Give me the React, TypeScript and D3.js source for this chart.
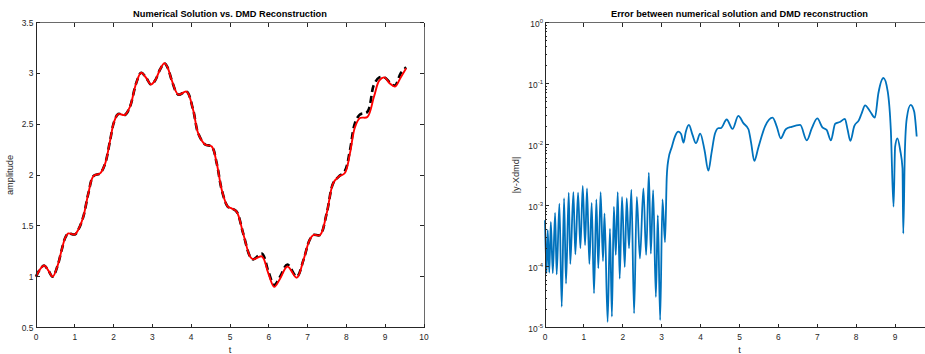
import React from 'react';
import * as d3 from 'd3';

// ---- Left panel data: time samples and the two curves ----
const tAmp = [0, 0.10, 0.21, 0.32, 0.43, 0.55, 0.66, 0.75, 0.83, 1.00, 1.10, 1.22, 1.35, 1.48, 1.65, 1.78, 1.91, 2.01, 2.12, 2.29, 2.42, 2.58, 2.71, 2.85, 2.96, 3.07, 3.20, 3.31, 3.40, 3.50, 3.67, 3.88, 4.05, 4.18, 4.36, 4.53, 4.66, 4.79, 4.94, 5.05, 5.17, 5.34, 5.52, 5.60, 5.82, 5.99, 6.14, 6.29, 6.48, 6.72, 6.89, 7.05, 7.15, 7.32, 7.49, 7.66, 7.79, 7.96, 8.09, 8.22, 8.35, 8.54, 8.71, 8.85, 8.98, 9.12, 9.25, 9.40, 9.54];

const dmdRecon = [1.00, 1.07, 1.11, 1.06, 1.00, 1.10, 1.26, 1.38, 1.425, 1.415, 1.47, 1.59, 1.82, 1.99, 2.016, 2.11, 2.34, 2.52, 2.60, 2.59, 2.67, 2.90, 3.006, 2.95, 2.89, 2.93, 3.04, 3.10, 3.05, 2.93, 2.79, 2.82, 2.64, 2.41, 2.30, 2.28, 2.11, 1.85, 1.69, 1.67, 1.64, 1.425, 1.195, 1.17, 1.20, 1.03, 0.90, 0.98, 1.10, 0.99, 1.16, 1.36, 1.41, 1.41, 1.62, 1.92, 1.98, 2.02, 2.21, 2.47, 2.56, 2.57, 2.77, 2.93, 2.96, 2.90, 2.87, 2.96, 3.05];

const numerical = [1.00, 1.07, 1.11, 1.06, 1.00, 1.10, 1.26, 1.38, 1.425, 1.415, 1.47, 1.59, 1.82, 1.99, 2.016, 2.11, 2.34, 2.52, 2.60, 2.59, 2.67, 2.90, 3.006, 2.95, 2.89, 2.93, 3.04, 3.10, 3.05, 2.93, 2.79, 2.82, 2.64, 2.41, 2.30, 2.28, 2.11, 1.85, 1.69, 1.67, 1.64, 1.425, 1.195, 1.17, 1.227, 1.05, 0.918, 1.00, 1.12, 1.00, 1.16, 1.36, 1.41, 1.41, 1.62, 1.92, 1.98, 2.04, 2.24, 2.51, 2.595, 2.62, 2.89, 2.96, 2.96, 2.91, 2.88, 3.00, 3.06];

// ---- Right panel data: |y - Xdmd| ----
const tErr = [0.00, 0.04, 0.07, 0.11, 0.15, 0.20, 0.26, 0.30, 0.37, 0.43, 0.49, 0.54, 0.61, 0.65, 0.73, 0.78, 0.85, 0.91, 0.97, 1.03, 1.08, 1.14, 1.20, 1.26, 1.32, 1.37, 1.43, 1.49, 1.53, 1.61, 1.67, 1.72, 1.77, 1.82, 1.87, 1.92, 1.98, 2.05, 2.10, 2.16, 2.22, 2.29, 2.36, 2.44, 2.53, 2.60, 2.67, 2.72, 2.78, 2.85, 2.90, 2.96, 3.02, 3.085, 3.13, 3.17, 3.26, 3.34, 3.43, 3.50, 3.56, 3.62, 3.70, 3.79, 3.88, 3.99, 4.10, 4.20, 4.28, 4.37, 4.46, 4.52, 4.67, 4.82, 4.97, 5.10, 5.23, 5.30, 5.38, 5.48, 5.66, 5.85, 5.96, 6.06, 6.19, 6.34, 6.56, 6.73, 6.86, 7.00, 7.13, 7.24, 7.35, 7.46, 7.58, 7.71, 7.78, 7.85, 7.95, 8.07, 8.14, 8.23, 8.35, 8.48, 8.57, 8.70, 8.81, 8.89, 8.96, 9.00, 9.06, 9.13, 9.19, 9.21, 9.25, 9.30, 9.40, 9.49, 9.555];

const errVals = [5.75e-4, 7.76e-5, 3.98e-4, 7.94e-5, 5.37e-4, 7.76e-5, 7.59e-4, 7.41e-5, 1.07e-3, 2.19e-5, 1.32e-3, 5.25e-5, 1.62e-3, 1.10e-4, 1.66e-3, 1.58e-4, 1.62e-3, 2.00e-4, 2.09e-3, 2.24e-4, 1.91e-3, 1.10e-4, 1.10e-3, 3.63e-5, 1.26e-3, 9.33e-5, 1.66e-3, 1.23e-4, 7.41e-4, 1.23e-5, 4.17e-4, 1.51e-5, 9.55e-4, 1.55e-4, 1.66e-3, 6.31e-5, 1.38e-3, 9.77e-5, 1.32e-3, 2.00e-4, 1.82e-3, 1.70e-5, 1.38e-3, 1.35e-4, 1.91e-3, 1.55e-4, 3.47e-3, 1.62e-4, 1.78e-3, 3.16e-5, 6.92e-4, 1.32e-5, 1.26e-3, 2.51e-4, 2.95e-3, 5.62e-3, 9.12e-3, 1.35e-2, 1.62e-2, 1.48e-2, 1.07e-2, 1.62e-2, 2.09e-2, 1.45e-2, 1.05e-2, 1.51e-2, 8.13e-3, 3.72e-3, 7.24e-3, 1.51e-2, 1.86e-2, 1.86e-2, 2.57e-2, 1.80e-2, 2.95e-2, 2.24e-2, 1.78e-2, 1.05e-2, 5.37e-3, 8.71e-3, 2.00e-2, 2.75e-2, 1.95e-2, 1.26e-2, 1.78e-2, 1.95e-2, 2.09e-2, 1.17e-2, 1.86e-2, 2.69e-2, 1.91e-2, 1.74e-2, 1.17e-2, 2.19e-2, 2.34e-2, 2.63e-2, 1.74e-2, 1.15e-2, 2.00e-2, 2.51e-2, 3.24e-2, 4.37e-2, 3.55e-2, 2.75e-2, 6.92e-2, 1.23e-1, 7.41e-2, 1.74e-2, 9.55e-4, 9.12e-3, 1.26e-2, 8.13e-3, 4.07e-3, 3.47e-4, 7.24e-3, 2.69e-2, 4.47e-2, 3.47e-2, 1.35e-2];

// ---- Tick definitions ----
const leftXTicks = [0, 1, 2, 3, 4, 5, 6, 7, 8, 9, 10];
const leftYTicks = [0.5, 1, 1.5, 2, 2.5, 3, 3.5];
const leftYTickLabels = ['0.5', '1', '1.5', '2', '2.5', '3', '3.5'];
const rightXTicks = [0, 1, 2, 3, 4, 5, 6, 7, 8, 9];
const rightYExponents = [-5, -4, -3, -2, -1, 0];

const leftTitle = 'Numerical Solution vs. DMD Reconstruction';
const rightTitle = 'Error between numerical solution and DMD reconstruction';

const FONT = '"Liberation Sans", Arial, Helvetica, sans-serif';
const AX = '#262626';

export default function App() {
  const W = 925;
  const H = 354;
  const top = 22.5;
  const bottom = 327.5;
  const L = { x0: 36, x1: 424 };
  const R = { x0: 545, x1: 934 };
  const tickLen = 4;
  const minorLen = 2.2;
  const tickFs = 8.4;
  const labelFs = 9.25;

  const xL = d3.scaleLinear().domain([0, 10]).range([L.x0, L.x1]);
  const yL = d3.scaleLinear().domain([0.5, 3.5]).range([bottom, top]);
  const xR = d3.scaleLinear().domain([0, 10]).range([R.x0, R.x1]);
  const yR = d3.scaleLog().domain([1e-5, 1]).range([bottom, top]);

  const lineAmp = d3
    .line<number>()
    .x((_, i) => xL(tAmp[i]))
    .y((d) => yL(d))
    .curve(d3.curveCatmullRom.alpha(0.5));
  const lineErr = d3
    .line<number>()
    .x((_, i) => xR(tErr[i]))
    .y((d) => yR(d))
    .curve(d3.curveMonotoneX);

  const minorTicks: number[] = [];
  for (let k = -5; k < 0; k++) {
    for (let m = 2; m <= 9; m++) minorTicks.push(m * Math.pow(10, k));
  }

  return (
    <svg
      width={W}
      height={H}
      style={{ position: 'absolute', left: 0, top: 0, background: '#fff' }}
      fontFamily={FONT}
    >
      <rect x={0} y={0} width={W} height={H} fill="#fff" />

      {/* ===== Left panel ===== */}
      <text x={(L.x0 + L.x1) / 2} y={16.6} textAnchor="middle" fontSize={labelFs} fontWeight="bold" fill="#000">
        {leftTitle}
      </text>
      <path d={lineAmp(numerical) || ''} fill="none" stroke="#000" strokeWidth={2.6} strokeDasharray="7,4" />
      <path d={lineAmp(dmdRecon) || ''} fill="none" stroke="#ff0000" strokeWidth={1.9} />

      <g stroke={AX} strokeWidth={1} shapeRendering="crispEdges">
        <line x1={L.x0} x2={L.x1} y1={bottom} y2={bottom} />
        <line x1={L.x0} x2={L.x0} y1={top} y2={bottom} />
        <line x1={L.x0} x2={L.x1} y1={top} y2={top} stroke="#6a6a6a" />
        <line x1={L.x1} x2={L.x1} y1={top} y2={bottom} stroke="#6a6a6a" />
        {leftXTicks.map((t) => (
          <g key={'lx' + t}>
            <line x1={xL(t)} x2={xL(t)} y1={bottom} y2={bottom - tickLen} />
            <line x1={xL(t)} x2={xL(t)} y1={top} y2={top + tickLen} />
          </g>
        ))}
        {leftYTicks.map((v) => (
          <g key={'ly' + v}>
            <line x1={L.x0} x2={L.x0 + tickLen} y1={yL(v)} y2={yL(v)} />
            <line x1={L.x1} x2={L.x1 - tickLen} y1={yL(v)} y2={yL(v)} />
          </g>
        ))}
      </g>
      <g fontSize={tickFs} fill={AX}>
        {leftXTicks.map((t) => (
          <text key={'lxt' + t} x={xL(t)} y={340.3} textAnchor="middle">
            {String(t)}
          </text>
        ))}
        {leftYTicks.map((v, i) => (
          <text key={'lyt' + v} x={L.x0 - 2.7} y={yL(v) + 3} textAnchor="end">
            {leftYTickLabels[i]}
          </text>
        ))}
      </g>
      <text x={(L.x0 + L.x1) / 2} y={353} textAnchor="middle" fontSize={labelFs} fill={AX}>
        t
      </text>
      <text
        transform={`translate(13.3, ${(top + bottom) / 2}) rotate(-90)`}
        textAnchor="middle"
        fontSize={labelFs}
        fill={AX}
      >
        amplitude
      </text>

      {/* ===== Right panel ===== */}
      <text x={(R.x0 + R.x1) / 2} y={16.6} textAnchor="middle" fontSize={labelFs} fontWeight="bold" fill="#000">
        {rightTitle}
      </text>
      <path d={lineErr(errVals) || ''} fill="none" stroke="#0072BD" strokeWidth={1.8} strokeLinejoin="round" />

      <g stroke={AX} strokeWidth={1} shapeRendering="crispEdges">
        <line x1={R.x0} x2={R.x1} y1={bottom} y2={bottom} />
        <line x1={R.x0} x2={R.x0} y1={top} y2={bottom} />
        <line x1={R.x0} x2={R.x1} y1={top} y2={top} stroke="#6a6a6a" />
        {rightXTicks.map((t) => (
          <g key={'rx' + t}>
            <line x1={xR(t)} x2={xR(t)} y1={bottom} y2={bottom - tickLen} />
            <line x1={xR(t)} x2={xR(t)} y1={top} y2={top + tickLen} />
          </g>
        ))}
        {rightYExponents.map((e) => (
          <g key={'ry' + e}>
            <line x1={R.x0} x2={R.x0 + tickLen} y1={yR(Math.pow(10, e))} y2={yR(Math.pow(10, e))} />
          </g>
        ))}
        {minorTicks.map((v, i) => (
          <g key={'rm' + i}>
            <line x1={R.x0} x2={R.x0 + minorLen} y1={yR(v)} y2={yR(v)} />
          </g>
        ))}
      </g>
      <g fontSize={tickFs} fill={AX}>
        {rightXTicks.map((t) => (
          <text key={'rxt' + t} x={xR(t)} y={340.3} textAnchor="middle">
            {String(t)}
          </text>
        ))}
        {rightYExponents.map((e) => (
          <text key={'ryt' + e} x={R.x0 - 2} y={yR(Math.pow(10, e)) + 4.8} textAnchor="end">
            <tspan>10</tspan>
            <tspan dy={-4.4} fontSize={6}>
              {String(e)}
            </tspan>
          </text>
        ))}
      </g>
      <text x={(R.x0 + R.x1) / 2} y={353} textAnchor="middle" fontSize={labelFs} fill={AX}>
        t
      </text>
      <text
        transform={`translate(519, ${(top + bottom) / 2}) rotate(-90)`}
        textAnchor="middle"
        fontSize={labelFs}
        fill={AX}
      >
        |y-Xdmd|
      </text>
    </svg>
  );
}
